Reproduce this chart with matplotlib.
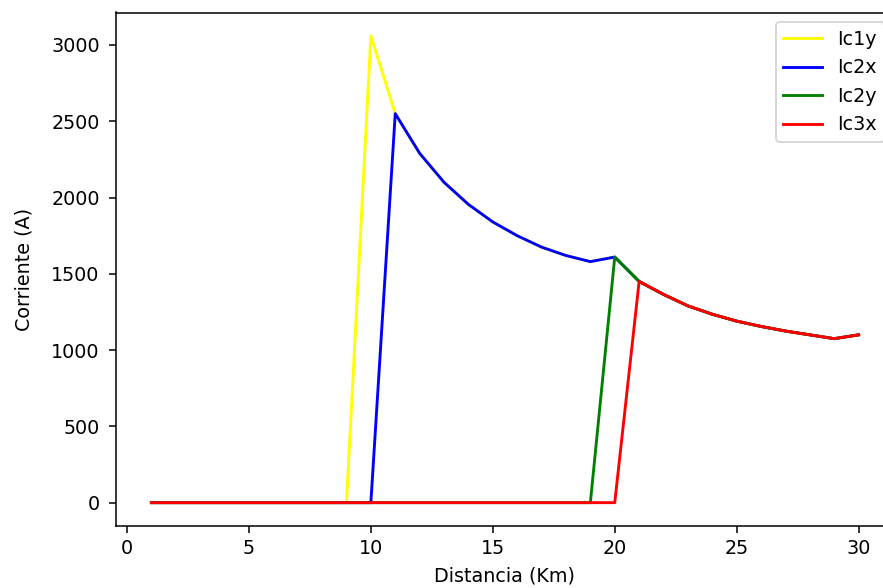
import matplotlib
matplotlib.use("Agg")
import matplotlib.pyplot as plt

distancia = list(range(1, 31))

ic1y = [0] * 9 + [3060, 2550, 2290, 2100, 1955, 1840, 1750, 1675, 1620, 1580, 1610,
                  1450, 1365, 1290, 1235, 1190, 1155, 1125, 1100, 1075, 1100]
ic2x = [0] * 10 + [2550, 2290, 2100, 1955, 1840, 1750, 1675, 1620, 1580, 1610,
                   1450, 1365, 1290, 1235, 1190, 1155, 1125, 1100, 1075, 1100]
ic2y = [0] * 19 + [1610, 1450, 1365, 1290, 1235, 1190, 1155, 1125, 1100, 1075, 1100]
ic3x = [0] * 20 + [1450, 1365, 1290, 1235, 1190, 1155, 1125, 1100, 1075, 1100]

series = [("Ic1y", ic1y, "yellow"), ("Ic2x", ic2x, "blue"),
          ("Ic2y", ic2y, "green"), ("Ic3x", ic3x, "red")]

fig = plt.figure(figsize=(883 / 138, 588 / 138), dpi=138)
ax = fig.add_axes([116 / 883, 1 - 526 / 588, 778 / 883, (526 - 12.5) / 588])

for name, vals, col in series:
    ax.plot(distancia, vals, color=col, label=name)

ax.spines["right"].set_visible(False)
ax.tick_params(axis="y", pad=5)
ax.set_xlabel("Distancia (Km)")
ax.set_ylabel("Corriente (A)", labelpad=9)
ax.legend(loc="upper right")

fig.savefig("out.png", dpi=138)
